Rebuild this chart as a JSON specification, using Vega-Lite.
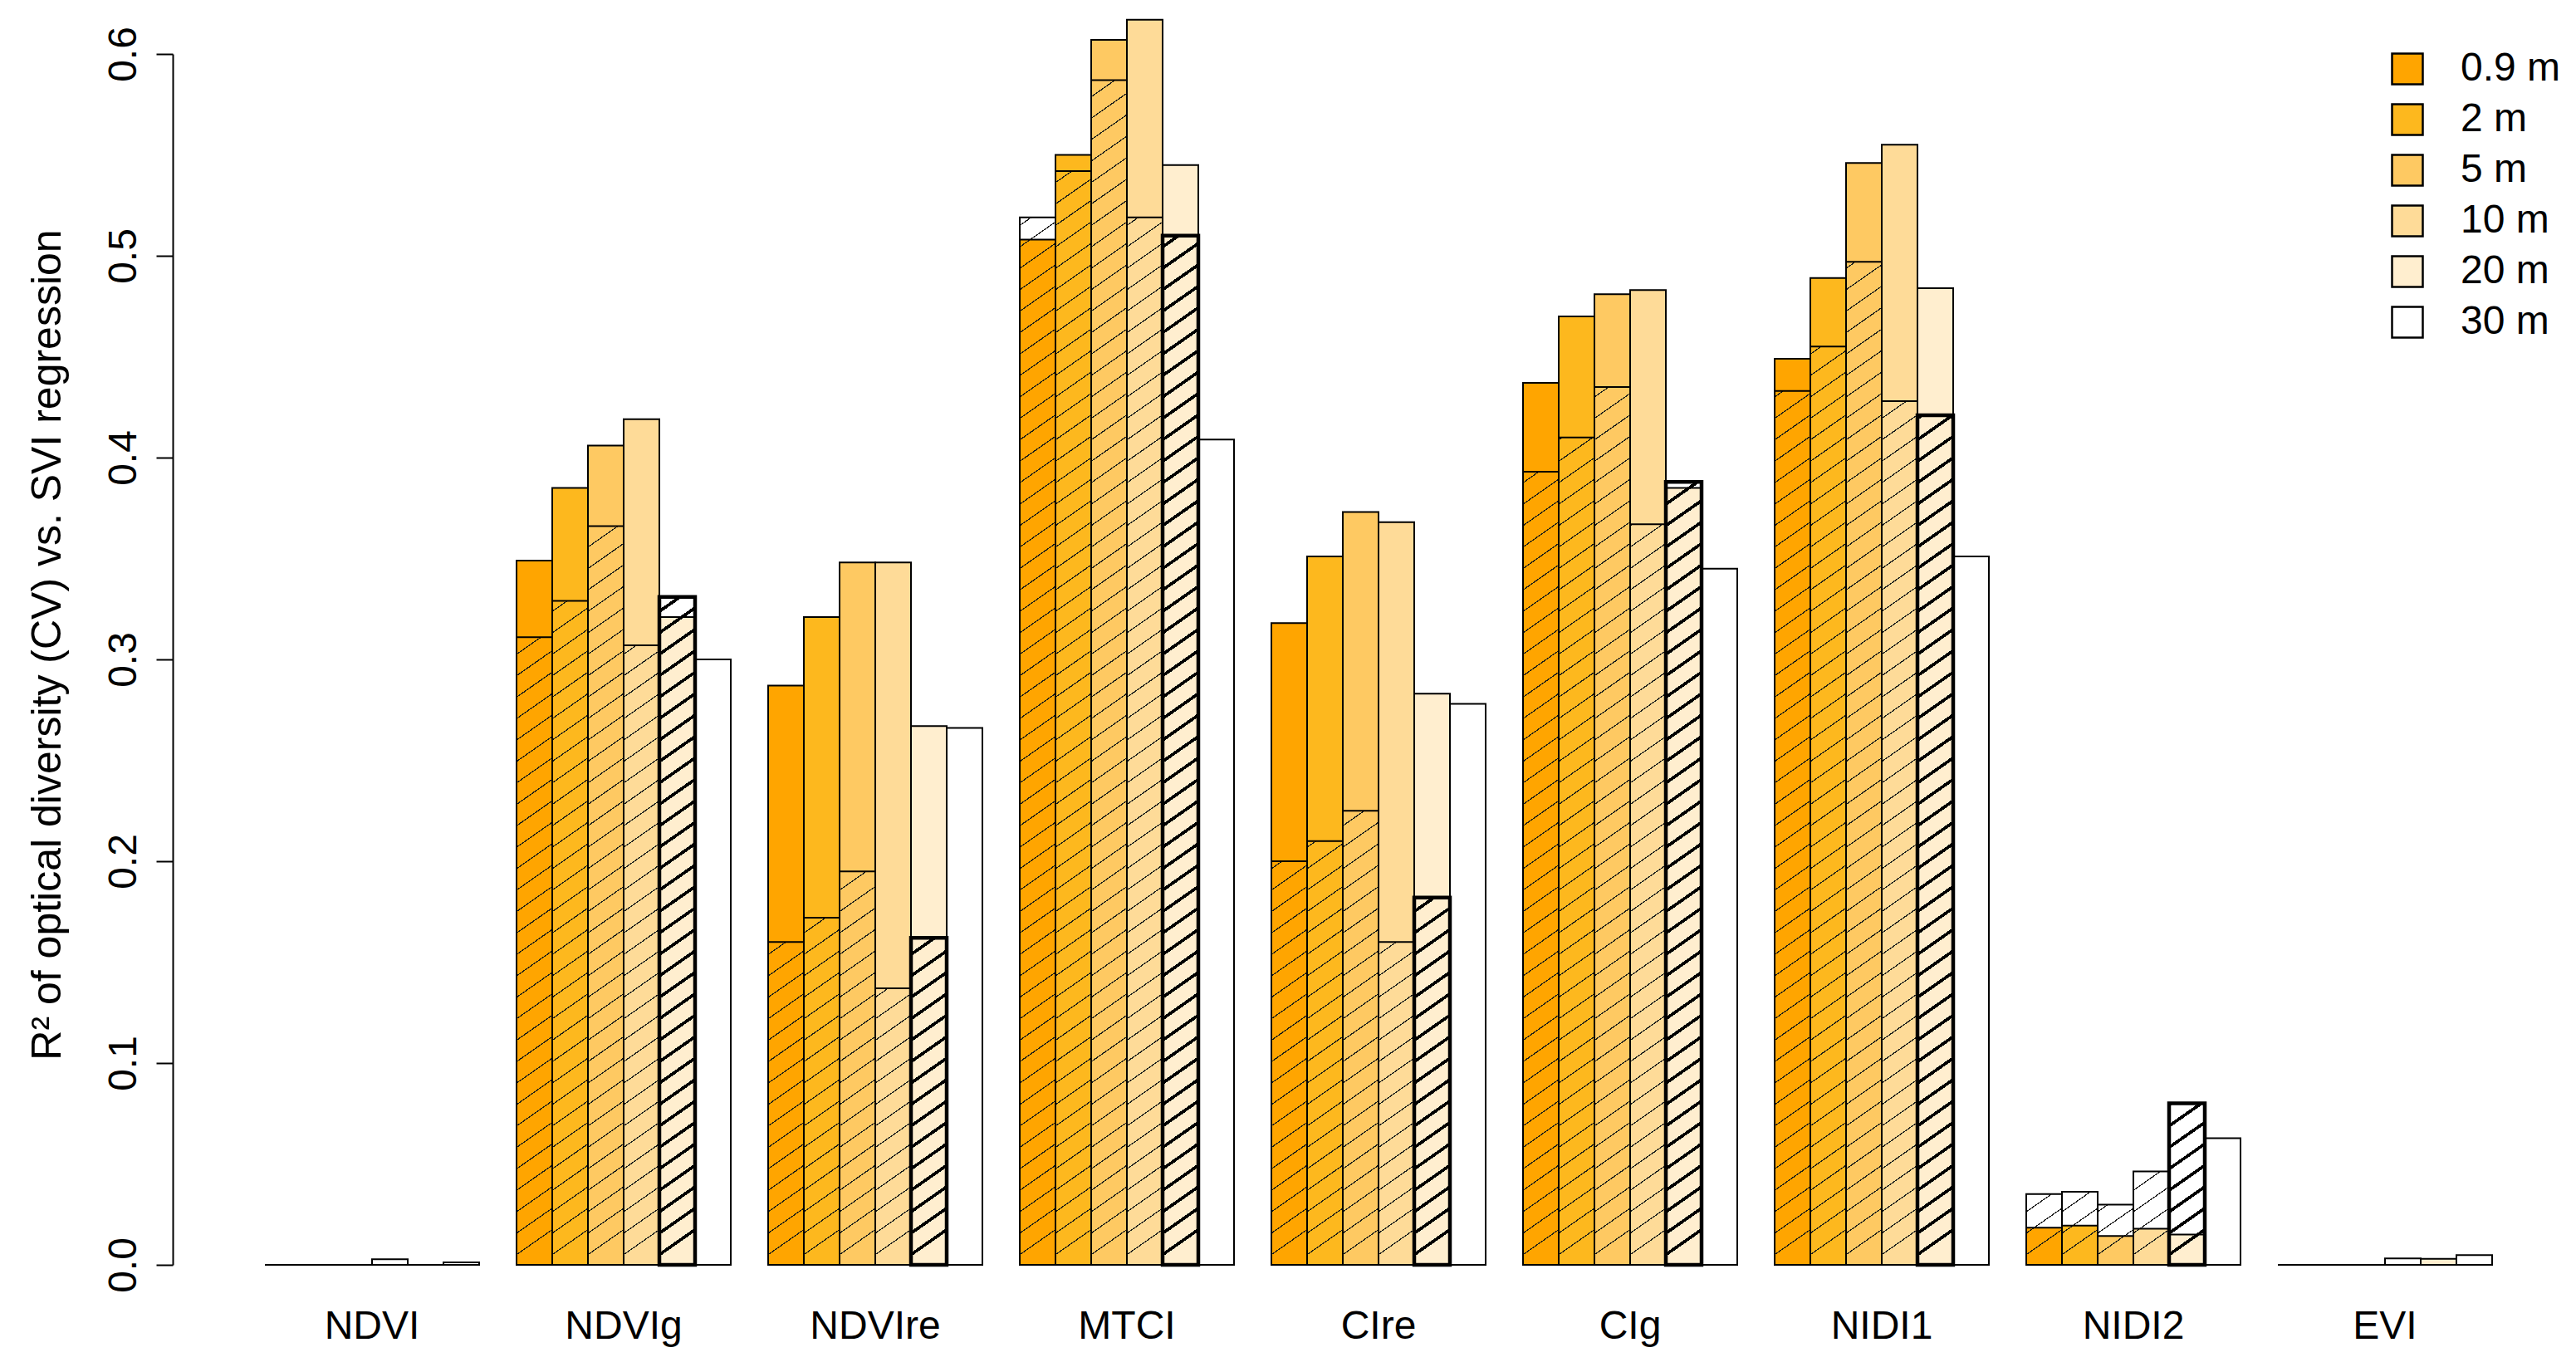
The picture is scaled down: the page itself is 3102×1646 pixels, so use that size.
{
"$schema": "https://vega.github.io/schema/vega-lite/v6.json",
"width": 2882, "height": 1458,
"autosize": {"type": "none"},
"padding": {"left": 208, "top": 65, "right": 12, "bottom": 123},
"background": "white",
"config": {
  "font": "Liberation Sans",
  "view": {"stroke": null},
  "axisX": {"domain": false, "ticks": false, "grid": false, "labelFontSize": 48, "labelColor": "#000", "labelPadding": 50, "labelAngle": 0},
  "axisY": {"grid": false, "domainColor": "#000", "domainWidth": 2, "tickColor": "#000", "tickWidth": 2, "tickSize": 20, "labelFontSize": 48, "labelColor": "#000", "labelAngle": 270, "labelAlign": "center", "labelBaseline": "alphabetic", "labelPadding": 25, "labelFlush": false, "labelOverlap": false, "titleFontSize": 50, "titleFontWeight": "normal", "titleColor": "#000", "titleAngle": 270, "titleAlign": "center", "titleBaseline": "alphabetic", "titleX": -136, "titleY": 711}
},
"data": {"values": [
  {"idx": "NDVI", "res": "0.9 m", "total": 0, "hatch": 0},
  {"idx": "NDVI", "res": "2 m", "total": 0, "hatch": 0},
  {"idx": "NDVI", "res": "5 m", "total": 0, "hatch": 0},
  {"idx": "NDVI", "res": "10 m", "total": 0, "hatch": 0.0028},
  {"idx": "NDVI", "res": "20 m", "total": 0, "hatch": 0},
  {"idx": "NDVI", "res": "30 m", "total": 0.0012, "hatch": 0},
  {"idx": "NDVIg", "res": "0.9 m", "total": 0.349, "hatch": 0.311},
  {"idx": "NDVIg", "res": "2 m", "total": 0.385, "hatch": 0.329},
  {"idx": "NDVIg", "res": "5 m", "total": 0.406, "hatch": 0.366},
  {"idx": "NDVIg", "res": "10 m", "total": 0.419, "hatch": 0.307},
  {"idx": "NDVIg", "res": "20 m", "total": 0.321, "hatch": 0.331},
  {"idx": "NDVIg", "res": "30 m", "total": 0.300, "hatch": 0},
  {"idx": "NDVIre", "res": "0.9 m", "total": 0.287, "hatch": 0.160},
  {"idx": "NDVIre", "res": "2 m", "total": 0.321, "hatch": 0.172},
  {"idx": "NDVIre", "res": "5 m", "total": 0.348, "hatch": 0.195},
  {"idx": "NDVIre", "res": "10 m", "total": 0.348, "hatch": 0.137},
  {"idx": "NDVIre", "res": "20 m", "total": 0.267, "hatch": 0.162},
  {"idx": "NDVIre", "res": "30 m", "total": 0.266, "hatch": 0},
  {"idx": "MTCI", "res": "0.9 m", "total": 0.508, "hatch": 0.519},
  {"idx": "MTCI", "res": "2 m", "total": 0.550, "hatch": 0.542},
  {"idx": "MTCI", "res": "5 m", "total": 0.607, "hatch": 0.587},
  {"idx": "MTCI", "res": "10 m", "total": 0.617, "hatch": 0.519},
  {"idx": "MTCI", "res": "20 m", "total": 0.545, "hatch": 0.510},
  {"idx": "MTCI", "res": "30 m", "total": 0.409, "hatch": 0},
  {"idx": "CIre", "res": "0.9 m", "total": 0.318, "hatch": 0.200},
  {"idx": "CIre", "res": "2 m", "total": 0.351, "hatch": 0.210},
  {"idx": "CIre", "res": "5 m", "total": 0.373, "hatch": 0.225},
  {"idx": "CIre", "res": "10 m", "total": 0.368, "hatch": 0.160},
  {"idx": "CIre", "res": "20 m", "total": 0.283, "hatch": 0.182},
  {"idx": "CIre", "res": "30 m", "total": 0.278, "hatch": 0},
  {"idx": "CIg", "res": "0.9 m", "total": 0.437, "hatch": 0.393},
  {"idx": "CIg", "res": "2 m", "total": 0.470, "hatch": 0.410},
  {"idx": "CIg", "res": "5 m", "total": 0.481, "hatch": 0.435},
  {"idx": "CIg", "res": "10 m", "total": 0.483, "hatch": 0.367},
  {"idx": "CIg", "res": "20 m", "total": 0.385, "hatch": 0.388},
  {"idx": "CIg", "res": "30 m", "total": 0.345, "hatch": 0},
  {"idx": "NIDI1", "res": "0.9 m", "total": 0.449, "hatch": 0.433},
  {"idx": "NIDI1", "res": "2 m", "total": 0.489, "hatch": 0.455},
  {"idx": "NIDI1", "res": "5 m", "total": 0.546, "hatch": 0.497},
  {"idx": "NIDI1", "res": "10 m", "total": 0.555, "hatch": 0.428},
  {"idx": "NIDI1", "res": "20 m", "total": 0.484, "hatch": 0.421},
  {"idx": "NIDI1", "res": "30 m", "total": 0.351, "hatch": 0},
  {"idx": "NIDI2", "res": "0.9 m", "total": 0.0184, "hatch": 0.0351},
  {"idx": "NIDI2", "res": "2 m", "total": 0.0194, "hatch": 0.0362},
  {"idx": "NIDI2", "res": "5 m", "total": 0.0143, "hatch": 0.0298},
  {"idx": "NIDI2", "res": "10 m", "total": 0.0179, "hatch": 0.0463},
  {"idx": "NIDI2", "res": "20 m", "total": 0.0150, "hatch": 0.0800},
  {"idx": "NIDI2", "res": "30 m", "total": 0.0628, "hatch": 0},
  {"idx": "EVI", "res": "0.9 m", "total": 0, "hatch": 0},
  {"idx": "EVI", "res": "2 m", "total": 0, "hatch": 0},
  {"idx": "EVI", "res": "5 m", "total": 0, "hatch": 0},
  {"idx": "EVI", "res": "10 m", "total": 0, "hatch": 0.0032},
  {"idx": "EVI", "res": "20 m", "total": 0.003, "hatch": 0},
  {"idx": "EVI", "res": "30 m", "total": 0.0048, "hatch": 0}
]},
"encoding": {
  "x": {"field": "idx", "type": "nominal", "sort": ["NDVI", "NDVIg", "NDVIre", "MTCI", "CIre", "CIg", "NIDI1", "NIDI2", "EVI"], "title": null, "scale": {"paddingInner": 0.142857, "paddingOuter": 0.3232, "align": 0.556, "round": true}},
  "xOffset": {"field": "res", "type": "nominal", "sort": ["0.9 m", "2 m", "5 m", "10 m", "20 m", "30 m"], "scale": {"paddingInner": 0, "paddingOuter": 0, "round": true}}
},
"layer": [
  {"mark": {"type": "bar", "strokeWidth": 0},
   "encoding": {
     "y": {"field": "total", "type": "quantitative", "title": "R² of optical diversity (CV) vs. SVI regression", "scale": {"domain": [0, 0.6], "nice": false, "zero": true}, "axis": {"values": [0, 0.1, 0.2, 0.3, 0.4, 0.5, 0.6], "format": ".1f"}},
     "fill": {"field": "res", "type": "nominal", "sort": ["0.9 m", "2 m", "5 m", "10 m", "20 m", "30 m"], "scale": {"domain": ["0.9 m", "2 m", "5 m", "10 m", "20 m", "30 m"], "range": ["#FFA500", "#FDB81E", "#FEC962", "#FEDB98", "#FFEECF", "#FFFFFF"]},
       "legend": {"orient": "none", "legendX": 2667, "legendY": -6, "title": null, "symbolType": "square", "symbolSize": 1369, "symbolStrokeColor": "#000", "symbolStrokeWidth": 2.5, "symbolOpacity": 1, "labelFontSize": 48, "labelColor": "#000", "labelOffset": 40, "rowPadding": 13, "padding": 0}}
   }},
  {"transform": [{"filter": "datum.hatch > 0"}],
   "mark": {"type": "bar", "strokeWidth": 0},
   "encoding": {
     "y": {"datum": 0.59, "type": "quantitative", "title": "R² of optical diversity (CV) vs. SVI regression", "scale": {"domain": [0, 0.6], "nice": false, "zero": true}, "axis": {"values": [0, 0.1, 0.2, 0.3, 0.4, 0.5, 0.6], "format": ".1f"}},
     "y2": {"datum": 0},
     "fill": {"condition": {"test": "datum.res === '20 m'", "value": {"gradient": "linear", "x1": 0.021, "y1": 1, "x2": 0, "y2": 0, "stops": [
{"offset":0.0074,"color":"transparent"},{"offset":0.0074,"color":"#000"},{"offset":0.0106,"color":"#000"},{"offset":0.0106,"color":"transparent"},
{"offset":0.0254,"color":"transparent"},{"offset":0.0254,"color":"#000"},{"offset":0.0286,"color":"#000"},{"offset":0.0286,"color":"transparent"},
{"offset":0.0434,"color":"transparent"},{"offset":0.0434,"color":"#000"},{"offset":0.0466,"color":"#000"},{"offset":0.0466,"color":"transparent"},
{"offset":0.0614,"color":"transparent"},{"offset":0.0614,"color":"#000"},{"offset":0.0646,"color":"#000"},{"offset":0.0646,"color":"transparent"},
{"offset":0.0794,"color":"transparent"},{"offset":0.0794,"color":"#000"},{"offset":0.0826,"color":"#000"},{"offset":0.0826,"color":"transparent"},
{"offset":0.0974,"color":"transparent"},{"offset":0.0974,"color":"#000"},{"offset":0.1006,"color":"#000"},{"offset":0.1006,"color":"transparent"},
{"offset":0.1154,"color":"transparent"},{"offset":0.1154,"color":"#000"},{"offset":0.1186,"color":"#000"},{"offset":0.1186,"color":"transparent"},
{"offset":0.1334,"color":"transparent"},{"offset":0.1334,"color":"#000"},{"offset":0.1366,"color":"#000"},{"offset":0.1366,"color":"transparent"},
{"offset":0.1514,"color":"transparent"},{"offset":0.1514,"color":"#000"},{"offset":0.1546,"color":"#000"},{"offset":0.1546,"color":"transparent"},
{"offset":0.1694,"color":"transparent"},{"offset":0.1694,"color":"#000"},{"offset":0.1726,"color":"#000"},{"offset":0.1726,"color":"transparent"},
{"offset":0.1874,"color":"transparent"},{"offset":0.1874,"color":"#000"},{"offset":0.1906,"color":"#000"},{"offset":0.1906,"color":"transparent"},
{"offset":0.2054,"color":"transparent"},{"offset":0.2054,"color":"#000"},{"offset":0.2086,"color":"#000"},{"offset":0.2086,"color":"transparent"},
{"offset":0.2234,"color":"transparent"},{"offset":0.2234,"color":"#000"},{"offset":0.2266,"color":"#000"},{"offset":0.2266,"color":"transparent"},
{"offset":0.2414,"color":"transparent"},{"offset":0.2414,"color":"#000"},{"offset":0.2446,"color":"#000"},{"offset":0.2446,"color":"transparent"},
{"offset":0.2594,"color":"transparent"},{"offset":0.2594,"color":"#000"},{"offset":0.2626,"color":"#000"},{"offset":0.2626,"color":"transparent"},
{"offset":0.2774,"color":"transparent"},{"offset":0.2774,"color":"#000"},{"offset":0.2806,"color":"#000"},{"offset":0.2806,"color":"transparent"},
{"offset":0.2954,"color":"transparent"},{"offset":0.2954,"color":"#000"},{"offset":0.2986,"color":"#000"},{"offset":0.2986,"color":"transparent"},
{"offset":0.3134,"color":"transparent"},{"offset":0.3134,"color":"#000"},{"offset":0.3166,"color":"#000"},{"offset":0.3166,"color":"transparent"},
{"offset":0.3314,"color":"transparent"},{"offset":0.3314,"color":"#000"},{"offset":0.3346,"color":"#000"},{"offset":0.3346,"color":"transparent"},
{"offset":0.3494,"color":"transparent"},{"offset":0.3494,"color":"#000"},{"offset":0.3526,"color":"#000"},{"offset":0.3526,"color":"transparent"},
{"offset":0.3674,"color":"transparent"},{"offset":0.3674,"color":"#000"},{"offset":0.3706,"color":"#000"},{"offset":0.3706,"color":"transparent"},
{"offset":0.3854,"color":"transparent"},{"offset":0.3854,"color":"#000"},{"offset":0.3886,"color":"#000"},{"offset":0.3886,"color":"transparent"},
{"offset":0.4034,"color":"transparent"},{"offset":0.4034,"color":"#000"},{"offset":0.4066,"color":"#000"},{"offset":0.4066,"color":"transparent"},
{"offset":0.4214,"color":"transparent"},{"offset":0.4214,"color":"#000"},{"offset":0.4246,"color":"#000"},{"offset":0.4246,"color":"transparent"},
{"offset":0.4394,"color":"transparent"},{"offset":0.4394,"color":"#000"},{"offset":0.4426,"color":"#000"},{"offset":0.4426,"color":"transparent"},
{"offset":0.4574,"color":"transparent"},{"offset":0.4574,"color":"#000"},{"offset":0.4606,"color":"#000"},{"offset":0.4606,"color":"transparent"},
{"offset":0.4754,"color":"transparent"},{"offset":0.4754,"color":"#000"},{"offset":0.4786,"color":"#000"},{"offset":0.4786,"color":"transparent"},
{"offset":0.4934,"color":"transparent"},{"offset":0.4934,"color":"#000"},{"offset":0.4966,"color":"#000"},{"offset":0.4966,"color":"transparent"},
{"offset":0.5114,"color":"transparent"},{"offset":0.5114,"color":"#000"},{"offset":0.5146,"color":"#000"},{"offset":0.5146,"color":"transparent"},
{"offset":0.5294,"color":"transparent"},{"offset":0.5294,"color":"#000"},{"offset":0.5326,"color":"#000"},{"offset":0.5326,"color":"transparent"},
{"offset":0.5474,"color":"transparent"},{"offset":0.5474,"color":"#000"},{"offset":0.5506,"color":"#000"},{"offset":0.5506,"color":"transparent"},
{"offset":0.5654,"color":"transparent"},{"offset":0.5654,"color":"#000"},{"offset":0.5686,"color":"#000"},{"offset":0.5686,"color":"transparent"},
{"offset":0.5834,"color":"transparent"},{"offset":0.5834,"color":"#000"},{"offset":0.5866,"color":"#000"},{"offset":0.5866,"color":"transparent"},
{"offset":0.6014,"color":"transparent"},{"offset":0.6014,"color":"#000"},{"offset":0.6046,"color":"#000"},{"offset":0.6046,"color":"transparent"},
{"offset":0.6194,"color":"transparent"},{"offset":0.6194,"color":"#000"},{"offset":0.6226,"color":"#000"},{"offset":0.6226,"color":"transparent"},
{"offset":0.6374,"color":"transparent"},{"offset":0.6374,"color":"#000"},{"offset":0.6406,"color":"#000"},{"offset":0.6406,"color":"transparent"},
{"offset":0.6554,"color":"transparent"},{"offset":0.6554,"color":"#000"},{"offset":0.6586,"color":"#000"},{"offset":0.6586,"color":"transparent"},
{"offset":0.6734,"color":"transparent"},{"offset":0.6734,"color":"#000"},{"offset":0.6766,"color":"#000"},{"offset":0.6766,"color":"transparent"},
{"offset":0.6914,"color":"transparent"},{"offset":0.6914,"color":"#000"},{"offset":0.6946,"color":"#000"},{"offset":0.6946,"color":"transparent"},
{"offset":0.7094,"color":"transparent"},{"offset":0.7094,"color":"#000"},{"offset":0.7126,"color":"#000"},{"offset":0.7126,"color":"transparent"},
{"offset":0.7274,"color":"transparent"},{"offset":0.7274,"color":"#000"},{"offset":0.7306,"color":"#000"},{"offset":0.7306,"color":"transparent"},
{"offset":0.7454,"color":"transparent"},{"offset":0.7454,"color":"#000"},{"offset":0.7486,"color":"#000"},{"offset":0.7486,"color":"transparent"},
{"offset":0.7634,"color":"transparent"},{"offset":0.7634,"color":"#000"},{"offset":0.7666,"color":"#000"},{"offset":0.7666,"color":"transparent"},
{"offset":0.7814,"color":"transparent"},{"offset":0.7814,"color":"#000"},{"offset":0.7846,"color":"#000"},{"offset":0.7846,"color":"transparent"},
{"offset":0.7994,"color":"transparent"},{"offset":0.7994,"color":"#000"},{"offset":0.8026,"color":"#000"},{"offset":0.8026,"color":"transparent"},
{"offset":0.8174,"color":"transparent"},{"offset":0.8174,"color":"#000"},{"offset":0.8206,"color":"#000"},{"offset":0.8206,"color":"transparent"},
{"offset":0.8354,"color":"transparent"},{"offset":0.8354,"color":"#000"},{"offset":0.8386,"color":"#000"},{"offset":0.8386,"color":"transparent"},
{"offset":0.8534,"color":"transparent"},{"offset":0.8534,"color":"#000"},{"offset":0.8566,"color":"#000"},{"offset":0.8566,"color":"transparent"},
{"offset":0.8714,"color":"transparent"},{"offset":0.8714,"color":"#000"},{"offset":0.8746,"color":"#000"},{"offset":0.8746,"color":"transparent"},
{"offset":0.8894,"color":"transparent"},{"offset":0.8894,"color":"#000"},{"offset":0.8926,"color":"#000"},{"offset":0.8926,"color":"transparent"},
{"offset":0.9074,"color":"transparent"},{"offset":0.9074,"color":"#000"},{"offset":0.9106,"color":"#000"},{"offset":0.9106,"color":"transparent"},
{"offset":0.9254,"color":"transparent"},{"offset":0.9254,"color":"#000"},{"offset":0.9286,"color":"#000"},{"offset":0.9286,"color":"transparent"},
{"offset":0.9434,"color":"transparent"},{"offset":0.9434,"color":"#000"},{"offset":0.9466,"color":"#000"},{"offset":0.9466,"color":"transparent"},
{"offset":0.9614,"color":"transparent"},{"offset":0.9614,"color":"#000"},{"offset":0.9646,"color":"#000"},{"offset":0.9646,"color":"transparent"},
{"offset":0.9794,"color":"transparent"},{"offset":0.9794,"color":"#000"},{"offset":0.9826,"color":"#000"},{"offset":0.9826,"color":"transparent"}
]}}, "value": {"gradient": "linear", "x1": 0.021, "y1": 1, "x2": 0, "y2": 0, "stops": [
{"offset":0.0085,"color":"transparent"},{"offset":0.0085,"color":"#1a1a1a"},{"offset":0.0095,"color":"#1a1a1a"},{"offset":0.0095,"color":"transparent"},
{"offset":0.0265,"color":"transparent"},{"offset":0.0265,"color":"#1a1a1a"},{"offset":0.0275,"color":"#1a1a1a"},{"offset":0.0275,"color":"transparent"},
{"offset":0.0445,"color":"transparent"},{"offset":0.0445,"color":"#1a1a1a"},{"offset":0.0455,"color":"#1a1a1a"},{"offset":0.0455,"color":"transparent"},
{"offset":0.0625,"color":"transparent"},{"offset":0.0625,"color":"#1a1a1a"},{"offset":0.0635,"color":"#1a1a1a"},{"offset":0.0635,"color":"transparent"},
{"offset":0.0805,"color":"transparent"},{"offset":0.0805,"color":"#1a1a1a"},{"offset":0.0815,"color":"#1a1a1a"},{"offset":0.0815,"color":"transparent"},
{"offset":0.0985,"color":"transparent"},{"offset":0.0985,"color":"#1a1a1a"},{"offset":0.0995,"color":"#1a1a1a"},{"offset":0.0995,"color":"transparent"},
{"offset":0.1165,"color":"transparent"},{"offset":0.1165,"color":"#1a1a1a"},{"offset":0.1175,"color":"#1a1a1a"},{"offset":0.1175,"color":"transparent"},
{"offset":0.1345,"color":"transparent"},{"offset":0.1345,"color":"#1a1a1a"},{"offset":0.1355,"color":"#1a1a1a"},{"offset":0.1355,"color":"transparent"},
{"offset":0.1525,"color":"transparent"},{"offset":0.1525,"color":"#1a1a1a"},{"offset":0.1535,"color":"#1a1a1a"},{"offset":0.1535,"color":"transparent"},
{"offset":0.1705,"color":"transparent"},{"offset":0.1705,"color":"#1a1a1a"},{"offset":0.1715,"color":"#1a1a1a"},{"offset":0.1715,"color":"transparent"},
{"offset":0.1885,"color":"transparent"},{"offset":0.1885,"color":"#1a1a1a"},{"offset":0.1895,"color":"#1a1a1a"},{"offset":0.1895,"color":"transparent"},
{"offset":0.2065,"color":"transparent"},{"offset":0.2065,"color":"#1a1a1a"},{"offset":0.2075,"color":"#1a1a1a"},{"offset":0.2075,"color":"transparent"},
{"offset":0.2245,"color":"transparent"},{"offset":0.2245,"color":"#1a1a1a"},{"offset":0.2255,"color":"#1a1a1a"},{"offset":0.2255,"color":"transparent"},
{"offset":0.2425,"color":"transparent"},{"offset":0.2425,"color":"#1a1a1a"},{"offset":0.2435,"color":"#1a1a1a"},{"offset":0.2435,"color":"transparent"},
{"offset":0.2605,"color":"transparent"},{"offset":0.2605,"color":"#1a1a1a"},{"offset":0.2615,"color":"#1a1a1a"},{"offset":0.2615,"color":"transparent"},
{"offset":0.2785,"color":"transparent"},{"offset":0.2785,"color":"#1a1a1a"},{"offset":0.2795,"color":"#1a1a1a"},{"offset":0.2795,"color":"transparent"},
{"offset":0.2965,"color":"transparent"},{"offset":0.2965,"color":"#1a1a1a"},{"offset":0.2975,"color":"#1a1a1a"},{"offset":0.2975,"color":"transparent"},
{"offset":0.3145,"color":"transparent"},{"offset":0.3145,"color":"#1a1a1a"},{"offset":0.3155,"color":"#1a1a1a"},{"offset":0.3155,"color":"transparent"},
{"offset":0.3325,"color":"transparent"},{"offset":0.3325,"color":"#1a1a1a"},{"offset":0.3335,"color":"#1a1a1a"},{"offset":0.3335,"color":"transparent"},
{"offset":0.3505,"color":"transparent"},{"offset":0.3505,"color":"#1a1a1a"},{"offset":0.3515,"color":"#1a1a1a"},{"offset":0.3515,"color":"transparent"},
{"offset":0.3685,"color":"transparent"},{"offset":0.3685,"color":"#1a1a1a"},{"offset":0.3695,"color":"#1a1a1a"},{"offset":0.3695,"color":"transparent"},
{"offset":0.3865,"color":"transparent"},{"offset":0.3865,"color":"#1a1a1a"},{"offset":0.3875,"color":"#1a1a1a"},{"offset":0.3875,"color":"transparent"},
{"offset":0.4045,"color":"transparent"},{"offset":0.4045,"color":"#1a1a1a"},{"offset":0.4055,"color":"#1a1a1a"},{"offset":0.4055,"color":"transparent"},
{"offset":0.4225,"color":"transparent"},{"offset":0.4225,"color":"#1a1a1a"},{"offset":0.4235,"color":"#1a1a1a"},{"offset":0.4235,"color":"transparent"},
{"offset":0.4405,"color":"transparent"},{"offset":0.4405,"color":"#1a1a1a"},{"offset":0.4415,"color":"#1a1a1a"},{"offset":0.4415,"color":"transparent"},
{"offset":0.4585,"color":"transparent"},{"offset":0.4585,"color":"#1a1a1a"},{"offset":0.4595,"color":"#1a1a1a"},{"offset":0.4595,"color":"transparent"},
{"offset":0.4765,"color":"transparent"},{"offset":0.4765,"color":"#1a1a1a"},{"offset":0.4775,"color":"#1a1a1a"},{"offset":0.4775,"color":"transparent"},
{"offset":0.4945,"color":"transparent"},{"offset":0.4945,"color":"#1a1a1a"},{"offset":0.4955,"color":"#1a1a1a"},{"offset":0.4955,"color":"transparent"},
{"offset":0.5125,"color":"transparent"},{"offset":0.5125,"color":"#1a1a1a"},{"offset":0.5135,"color":"#1a1a1a"},{"offset":0.5135,"color":"transparent"},
{"offset":0.5305,"color":"transparent"},{"offset":0.5305,"color":"#1a1a1a"},{"offset":0.5315,"color":"#1a1a1a"},{"offset":0.5315,"color":"transparent"},
{"offset":0.5485,"color":"transparent"},{"offset":0.5485,"color":"#1a1a1a"},{"offset":0.5495,"color":"#1a1a1a"},{"offset":0.5495,"color":"transparent"},
{"offset":0.5665,"color":"transparent"},{"offset":0.5665,"color":"#1a1a1a"},{"offset":0.5675,"color":"#1a1a1a"},{"offset":0.5675,"color":"transparent"},
{"offset":0.5845,"color":"transparent"},{"offset":0.5845,"color":"#1a1a1a"},{"offset":0.5855,"color":"#1a1a1a"},{"offset":0.5855,"color":"transparent"},
{"offset":0.6025,"color":"transparent"},{"offset":0.6025,"color":"#1a1a1a"},{"offset":0.6035,"color":"#1a1a1a"},{"offset":0.6035,"color":"transparent"},
{"offset":0.6205,"color":"transparent"},{"offset":0.6205,"color":"#1a1a1a"},{"offset":0.6215,"color":"#1a1a1a"},{"offset":0.6215,"color":"transparent"},
{"offset":0.6385,"color":"transparent"},{"offset":0.6385,"color":"#1a1a1a"},{"offset":0.6395,"color":"#1a1a1a"},{"offset":0.6395,"color":"transparent"},
{"offset":0.6565,"color":"transparent"},{"offset":0.6565,"color":"#1a1a1a"},{"offset":0.6575,"color":"#1a1a1a"},{"offset":0.6575,"color":"transparent"},
{"offset":0.6745,"color":"transparent"},{"offset":0.6745,"color":"#1a1a1a"},{"offset":0.6755,"color":"#1a1a1a"},{"offset":0.6755,"color":"transparent"},
{"offset":0.6925,"color":"transparent"},{"offset":0.6925,"color":"#1a1a1a"},{"offset":0.6935,"color":"#1a1a1a"},{"offset":0.6935,"color":"transparent"},
{"offset":0.7105,"color":"transparent"},{"offset":0.7105,"color":"#1a1a1a"},{"offset":0.7115,"color":"#1a1a1a"},{"offset":0.7115,"color":"transparent"},
{"offset":0.7285,"color":"transparent"},{"offset":0.7285,"color":"#1a1a1a"},{"offset":0.7295,"color":"#1a1a1a"},{"offset":0.7295,"color":"transparent"},
{"offset":0.7465,"color":"transparent"},{"offset":0.7465,"color":"#1a1a1a"},{"offset":0.7475,"color":"#1a1a1a"},{"offset":0.7475,"color":"transparent"},
{"offset":0.7645,"color":"transparent"},{"offset":0.7645,"color":"#1a1a1a"},{"offset":0.7655,"color":"#1a1a1a"},{"offset":0.7655,"color":"transparent"},
{"offset":0.7825,"color":"transparent"},{"offset":0.7825,"color":"#1a1a1a"},{"offset":0.7835,"color":"#1a1a1a"},{"offset":0.7835,"color":"transparent"},
{"offset":0.8005,"color":"transparent"},{"offset":0.8005,"color":"#1a1a1a"},{"offset":0.8015,"color":"#1a1a1a"},{"offset":0.8015,"color":"transparent"},
{"offset":0.8185,"color":"transparent"},{"offset":0.8185,"color":"#1a1a1a"},{"offset":0.8195,"color":"#1a1a1a"},{"offset":0.8195,"color":"transparent"},
{"offset":0.8365,"color":"transparent"},{"offset":0.8365,"color":"#1a1a1a"},{"offset":0.8375,"color":"#1a1a1a"},{"offset":0.8375,"color":"transparent"},
{"offset":0.8545,"color":"transparent"},{"offset":0.8545,"color":"#1a1a1a"},{"offset":0.8555,"color":"#1a1a1a"},{"offset":0.8555,"color":"transparent"},
{"offset":0.8725,"color":"transparent"},{"offset":0.8725,"color":"#1a1a1a"},{"offset":0.8735,"color":"#1a1a1a"},{"offset":0.8735,"color":"transparent"},
{"offset":0.8905,"color":"transparent"},{"offset":0.8905,"color":"#1a1a1a"},{"offset":0.8915,"color":"#1a1a1a"},{"offset":0.8915,"color":"transparent"},
{"offset":0.9085,"color":"transparent"},{"offset":0.9085,"color":"#1a1a1a"},{"offset":0.9095,"color":"#1a1a1a"},{"offset":0.9095,"color":"transparent"},
{"offset":0.9265,"color":"transparent"},{"offset":0.9265,"color":"#1a1a1a"},{"offset":0.9275,"color":"#1a1a1a"},{"offset":0.9275,"color":"transparent"},
{"offset":0.9445,"color":"transparent"},{"offset":0.9445,"color":"#1a1a1a"},{"offset":0.9455,"color":"#1a1a1a"},{"offset":0.9455,"color":"transparent"},
{"offset":0.9625,"color":"transparent"},{"offset":0.9625,"color":"#1a1a1a"},{"offset":0.9635,"color":"#1a1a1a"},{"offset":0.9635,"color":"transparent"},
{"offset":0.9805,"color":"transparent"},{"offset":0.9805,"color":"#1a1a1a"},{"offset":0.9815,"color":"#1a1a1a"},{"offset":0.9815,"color":"transparent"}
]}}
   }},
  {"transform": [{"filter": "datum.hatch > 0 && datum.total > datum.hatch"}],
   "mark": {"type": "bar", "strokeWidth": 0},
   "encoding": {
     "y": {"field": "hatch", "type": "quantitative", "title": "R² of optical diversity (CV) vs. SVI regression", "scale": {"domain": [0, 0.6], "nice": false, "zero": true}, "axis": {"values": [0, 0.1, 0.2, 0.3, 0.4, 0.5, 0.6], "format": ".1f"}},
     "y2": {"field": "total"},
     "fill": {"field": "res", "type": "nominal", "sort": ["0.9 m", "2 m", "5 m", "10 m", "20 m", "30 m"], "scale": {"domain": ["0.9 m", "2 m", "5 m", "10 m", "20 m", "30 m"], "range": ["#FFA500", "#FDB81E", "#FEC962", "#FEDB98", "#FFEECF", "#FFFFFF"]},
       "legend": {"orient": "none", "legendX": 2667, "legendY": -6, "title": null, "symbolType": "square", "symbolSize": 1369, "symbolStrokeColor": "#000", "symbolStrokeWidth": 2.5, "symbolOpacity": 1, "labelFontSize": 48, "labelColor": "#000", "labelOffset": 40, "rowPadding": 13, "padding": 0}}
   }},
  {"transform": [{"filter": "datum.hatch > 0 && datum.total >= datum.hatch"}],
   "mark": {"type": "bar", "strokeWidth": 0, "fill": "white"},
   "encoding": {
     "y": {"field": "total", "type": "quantitative", "title": "R² of optical diversity (CV) vs. SVI regression", "scale": {"domain": [0, 0.6], "nice": false, "zero": true}, "axis": {"values": [0, 0.1, 0.2, 0.3, 0.4, 0.5, 0.6], "format": ".1f"}},
     "y2": {"datum": 0.63}
   }},
  {"transform": [{"filter": "datum.hatch > datum.total"}],
   "mark": {"type": "bar", "strokeWidth": 0, "fill": "white"},
   "encoding": {
     "y": {"field": "hatch", "type": "quantitative", "title": "R² of optical diversity (CV) vs. SVI regression", "scale": {"domain": [0, 0.6], "nice": false, "zero": true}, "axis": {"values": [0, 0.1, 0.2, 0.3, 0.4, 0.5, 0.6], "format": ".1f"}},
     "y2": {"datum": 0.63}
   }},
  {"mark": {"type": "bar", "fill": "transparent", "stroke": "#000", "strokeWidth": 2},
   "encoding": {
     "y": {"field": "total", "type": "quantitative", "title": "R² of optical diversity (CV) vs. SVI regression", "scale": {"domain": [0, 0.6], "nice": false, "zero": true}, "axis": {"values": [0, 0.1, 0.2, 0.3, 0.4, 0.5, 0.6], "format": ".1f"}}
   }},
  {"transform": [{"filter": "datum.hatch > 0"}],
   "mark": {"type": "bar", "fill": "transparent", "stroke": "#000"},
   "encoding": {
     "y": {"field": "hatch", "type": "quantitative", "title": "R² of optical diversity (CV) vs. SVI regression", "scale": {"domain": [0, 0.6], "nice": false, "zero": true}, "axis": {"values": [0, 0.1, 0.2, 0.3, 0.4, 0.5, 0.6], "format": ".1f"}},
     "strokeWidth": {"condition": {"test": "datum.res === '20 m'", "value": 4.5}, "value": 2}
   }}
]
}
